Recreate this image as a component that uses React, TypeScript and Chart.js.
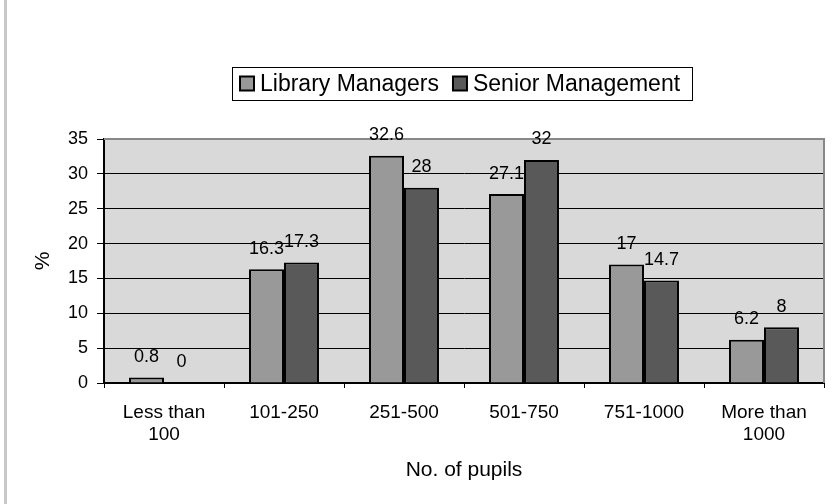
import React, { useEffect, useRef } from "react";
import { Chart, registerables } from "chart.js";

Chart.register(...registerables);

const categories: (string | string[])[] = [["Less than", "100"], "101-250", "251-500", "501-750", "751-1000", ["More than", "1000"]];
const libraryManagers = [0.8, 16.3, 32.6, 27.1, 17, 6.2];
const seniorManagement = [0, 17.3, 28, 32, 14.7, 8];
const seriesNames = ["Library Managers", "Senior Management"];
const seriesColors = ["#999999", "#595959"];
const yMax = 35;
const yStep = 5;
const xTitle = "No. of pupils";
const yTitle = "%";

const FONT = "'Liberation Sans', Arial, Helvetica, sans-serif";

const decorPlugin = {
  id: "decor",
  beforeDraw(chart: any) {
    const { ctx, chartArea } = chart;
    ctx.save();
    ctx.fillStyle = "#ffffff";
    ctx.fillRect(0, 0, chart.width, chart.height);
    ctx.fillStyle = "#c8c8c8";
    ctx.fillRect(4, 0, 3, chart.height);
    ctx.fillStyle = "#d9d9d9";
    ctx.fillRect(chartArea.left, chartArea.top, chartArea.right - chartArea.left, chartArea.bottom - chartArea.top);
    ctx.restore();
  },
  afterDatasetsDraw(chart: any) {
    const { ctx, chartArea } = chart;
    ctx.save();
    ctx.strokeStyle = "#888888";
    ctx.lineWidth = 2;
    ctx.beginPath();
    ctx.moveTo(chartArea.left, chartArea.top);
    ctx.lineTo(chartArea.right, chartArea.top);
    ctx.lineTo(chartArea.right, chartArea.bottom);
    ctx.stroke();
    ctx.fillStyle = "#000";
    ctx.font = `18px ${FONT}`;
    ctx.textAlign = "center";
    ctx.textBaseline = "middle";
    chart.data.datasets.forEach((ds: any, di: number) => {
      const meta = chart.getDatasetMeta(di);
      meta.data.forEach((bar: any, i: number) => {
        ctx.fillText(String(ds.data[i]), bar.x, bar.y - 20.5);
      });
    });
    ctx.font = `23px ${FONT}`;
    ctx.textAlign = "left";
    const boxL = 232, boxT = 67, boxR = 692, boxB = 100;
    ctx.fillStyle = "#fff";
    ctx.fillRect(boxL, boxT, boxR - boxL, boxB - boxT);
    ctx.strokeStyle = "#000";
    ctx.lineWidth = 1;
    ctx.strokeRect(boxL + 0.5, boxT + 0.5, boxR - boxL, boxB - boxT);
    let x = boxL + 8;
    const cy = (boxT + boxB) / 2;
    seriesNames.forEach((name, i) => {
      ctx.fillStyle = seriesColors[i];
      ctx.fillRect(x, cy - 7, 14, 14);
      ctx.strokeStyle = "#000";
      ctx.lineWidth = 2;
      ctx.strokeRect(x, cy - 7, 14, 14);
      ctx.fillStyle = "#000";
      ctx.fillText(name, x + 20, cy + 1);
      x += 20 + ctx.measureText(name).width + 14;
    });
    ctx.restore();
  },
};

export default function App() {
  const ref = useRef<HTMLCanvasElement>(null);
  useEffect(() => {
    if (!ref.current) return;
    const chart = new Chart(ref.current, {
      type: "bar",
      data: {
        labels: categories,
        datasets: [
          {
            label: seriesNames[0],
            data: libraryManagers,
            backgroundColor: seriesColors[0],
            borderColor: "#000",
            borderWidth: 2,
            barPercentage: 1,
            categoryPercentage: 0.583,
          },
          {
            label: seriesNames[1],
            data: seniorManagement,
            backgroundColor: seriesColors[1],
            borderColor: "#000",
            borderWidth: 2,
            barPercentage: 1,
            categoryPercentage: 0.583,
          },
        ],
      },
      options: {
        responsive: false,
        animation: false,
        layout: { padding: { left: 31, top: 139, right: 9, bottom: 21 } },
        plugins: { legend: { display: false }, tooltip: { enabled: false } },
        scales: {
          x: {
            afterFit: (s: any) => { s.height = 100; },
            grid: {
              offset: true,
              drawOnChartArea: false,
              drawTicks: true,
              tickLength: 5,
              tickColor: "#000",
              color: "#000",
            },
            border: { color: "#000", width: 2 },
            ticks: {
              color: "#000",
              font: { family: FONT, size: 19 },
              padding: 13,
              maxRotation: 0,
              autoSkip: false,
            },
            title: {
              display: true,
              text: xTitle,
              color: "#000",
              font: { family: FONT, size: 21 },
              padding: { top: 0, bottom: 0 },
            },
          },
          y: {
            min: 0,
            max: yMax,
            afterFit: (s: any) => { s.width = 73; },
            grid: {
              color: (c: any) => (c.tick && c.tick.value === yMax ? "rgba(0,0,0,0)" : "#000"),
              tickColor: "#000",
              tickLength: 7,
              lineWidth: 1,
            },
            border: { color: "#000", width: 2 },
            ticks: {
              stepSize: yStep,
              color: "#000",
              font: { family: FONT, size: 18 },
              padding: 9,
            },
            title: {
              display: true,
              text: yTitle,
              color: "#000",
              font: { family: FONT, size: 21 },
              padding: { top: 0, bottom: 0 },
            },
          },
        },
      },
      plugins: [decorPlugin],
    });
    return () => chart.destroy();
  }, []);
  return (
    <div style={{ position: "fixed", left: 0, top: 0, width: 833, height: 504 }}>
      <canvas ref={ref} width={833} height={504} style={{ width: 833, height: 504, display: "block" }} />
    </div>
  );
}
